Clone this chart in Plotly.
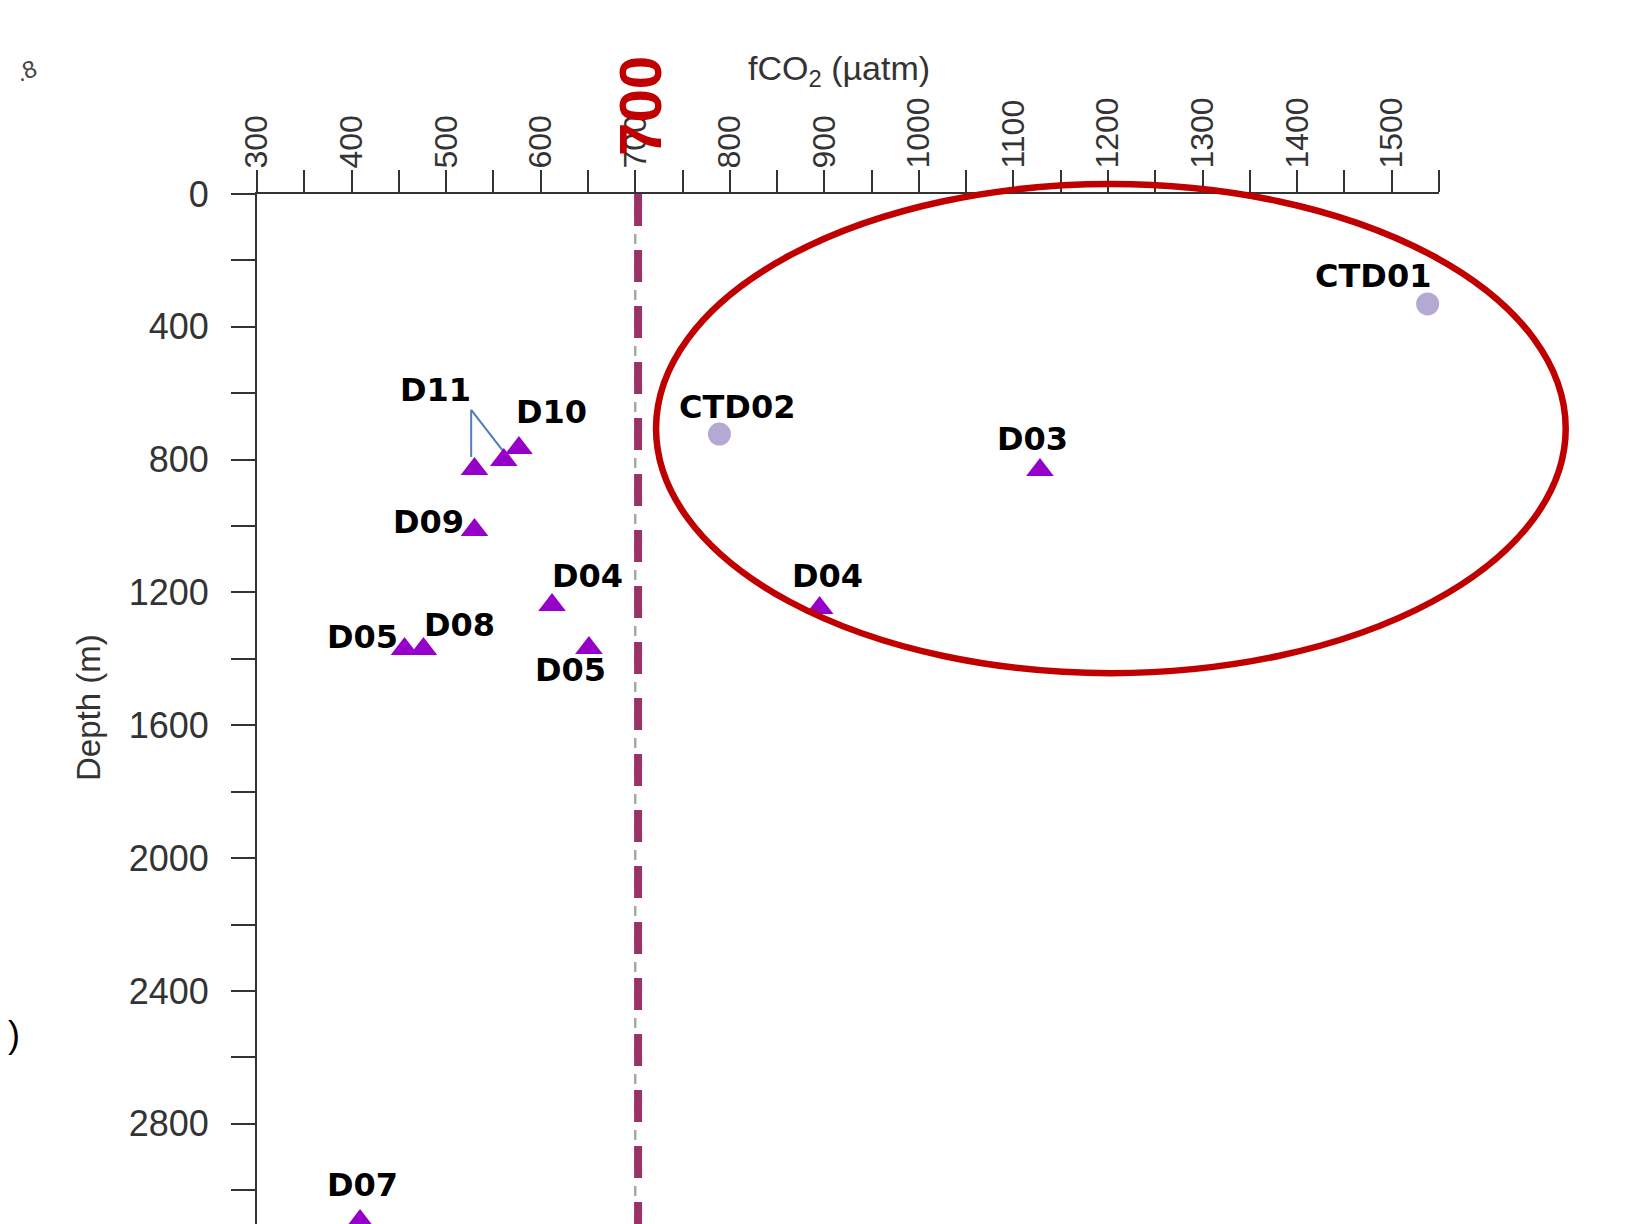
import plotly.graph_objects as go

# ---------------- data ----------------
X_MIN, X_MAX = 300, 1550
Y_MAX = 3102

ctd_names = ["CTD01", "CTD02"]
ctd_fco2 = [1538, 789]
ctd_depth = [331, 723]

d_names = ["D11", "D11", "D10", "D09", "D04", "D05", "D05", "D08", "D03", "D04", "D07"]
d_fco2 = [530, 561, 577, 530, 612, 651, 456, 476, 1128, 895, 409]
d_depth = [828, 801, 765, 1012, 1238, 1367, 1370, 1370, 831, 1247, 3093]

threshold = 700
x_tick_vals = list(range(300, 1501, 100))
y_tick_vals = list(range(0, 2801, 400))

# label offsets (pixels) relative to each point; None = no own label
d_label_dx = [-39, None, 33, -46, 35, -18, -42, 36, -7, 8, 2]
d_label_dy = [79, None, 36, 8, 29, -22, 12, 24, 31, 32, 36]
ctd_label_dx = [-55, 18]
ctd_label_dy = [28, 27]

# ---------------- figure ----------------
OFF = 8                      # default body margin of the html page
PAGE_W, PAGE_H = 1632, 1224
W, H = PAGE_W - OFF, PAGE_H - OFF
PL, PR, PT = 257, 1439, 194  # plot area edges in page pixels
ML, MT = PL - OFF, PT - OFF
MR = W - (PR - OFF)
MB = 0
PLOT_W = PR - PL
PLOT_H = PAGE_H - PT


def xp(x):
    return (x - X_MIN) / (X_MAX - X_MIN)


def yp(d):
    return 1 - d / Y_MAX


def px_x(X):
    return (X - PL) / PLOT_W


def px_y(Y):
    return (PAGE_H - Y) / PLOT_H


fig = go.Figure()

# thin grey dashed line (original) and thick maroon dashed overlay at 700
fig.add_trace(go.Scatter(x=[threshold, threshold], y=[36, Y_MAX], mode="lines",
                         line=dict(color="#a8a8a8", width=2.5, dash="10px,18px"),
                         hoverinfo="skip", showlegend=False))
fig.add_trace(go.Scatter(x=[threshold + 3, threshold + 3], y=[0, Y_MAX], mode="lines",
                         line=dict(color="rgb(155,50,100)", width=8, dash="32px,24px"),
                         hoverinfo="skip", showlegend=False))

# leader lines for D11 label (derived from the two D11 points)
ax_x = d_fco2[0] - 3.5
ax_d = d_depth[0] - 178
fig.add_trace(go.Scatter(
    x=[ax_x, ax_x, None, ax_x, d_fco2[1] + 4],
    y=[ax_d, d_depth[0] - 36, None, ax_d, d_depth[1] - 9],
    mode="lines", line=dict(color="rgb(80,125,185)", width=2),
    hoverinfo="skip", showlegend=False))

fig.add_trace(go.Scatter(x=ctd_fco2, y=ctd_depth, mode="markers",
                         marker=dict(symbol="circle", size=23, color="#b3a9d2"),
                         cliponaxis=False, showlegend=False))
fig.add_trace(go.Scatter(x=d_fco2, y=d_depth, mode="markers",
                         marker=dict(symbol="triangle-up", size=24, color="rgb(150,0,200)"),
                         cliponaxis=False, showlegend=False))

lab_font = dict(family="DejaVu Sans", size=32, color="black")
annotations = []
for n, x, d, dx, dy in zip(d_names, d_fco2, d_depth, d_label_dx, d_label_dy):
    if dx is None:
        continue
    annotations.append(dict(x=x, y=d, xref="x", yref="y", text="<b>%s</b>" % n,
                            showarrow=False, xshift=dx, yshift=dy, font=lab_font,
                            xanchor="center", yanchor="middle"))
for n, x, d, dx, dy in zip(ctd_names, ctd_fco2, ctd_depth, ctd_label_dx, ctd_label_dy):
    annotations.append(dict(x=x, y=d, xref="x", yref="y", text="<b>%s</b>" % n,
                            showarrow=False, xshift=dx, yshift=dy, font=lab_font,
                            xanchor="center", yanchor="middle"))

# red 700 marker text
annotations.append(dict(x=threshold + 6, y=px_y(106), xref="x", yref="paper",
                        text="<b>700</b>", textangle=-90, showarrow=False,
                        xanchor="center", yanchor="middle",
                        font=dict(family="Liberation Sans", size=60, color="#c00000")))
# axis titles
annotations.append(dict(x=px_x(839), y=px_y(71), xref="paper", yref="paper",
                        text="fCO<sub>2</sub> (µatm)", showarrow=False,
                        xanchor="center", yanchor="middle",
                        font=dict(family="Liberation Sans", size=34, color="#333")))
annotations.append(dict(x=px_x(88), y=px_y(708), xref="paper", yref="paper",
                        text="Depth (m)", textangle=-90, showarrow=False,
                        xanchor="center", yanchor="middle",
                        font=dict(family="Liberation Sans", size=33, color="#333")))
# fragments of neighbouring panel at left edge
annotations.append(dict(x=px_x(26), y=px_y(70), xref="paper", yref="paper",
                        text=".8", textangle=-20, showarrow=False,
                        xanchor="center", yanchor="middle",
                        font=dict(family="Liberation Sans", size=24, color="#444")))
annotations.append(dict(x=px_x(14), y=px_y(1034), xref="paper", yref="paper",
                        text=")", showarrow=False, xanchor="center", yanchor="middle",
                        font=dict(family="Liberation Sans", size=36, color="black")))

# ellipse highlight (data extents converted to paper)
ell_x0, ell_x1 = 722, 1684
ell_d0, ell_d1 = -30, 1443
shapes = [dict(type="circle", xref="paper", yref="paper",
               x0=xp(ell_x0), x1=xp(ell_x1), y0=yp(ell_d1), y1=yp(ell_d0),
               line=dict(color="#c00000", width=6.5))]

fig.update_layout(
    width=W, height=H,
    margin=dict(l=ML, r=MR, t=MT, b=MB, pad=0),
    paper_bgcolor="white", plot_bgcolor="white",
    showlegend=False,
    annotations=annotations, shapes=shapes,
    xaxis=dict(range=[X_MIN, X_MAX], side="top", showgrid=False, zeroline=False,
               showline=True, linecolor="#333", linewidth=2,
               tickmode="array", tickvals=x_tick_vals,
               ticks="outside", ticklen=22, tickwidth=2, tickcolor="#333",
               tickangle=-90, ticklabelstandoff=-5,
               tickfont=dict(family="Liberation Sans", size=32, color="#333"),
               minor=dict(dtick=50, tick0=300, ticks="outside", ticklen=22,
                          tickwidth=2, tickcolor="#333", showgrid=False)),
    yaxis=dict(range=[Y_MAX, 0], showgrid=False, zeroline=False,
               showline=True, linecolor="#333", linewidth=2,
               tickmode="array", tickvals=y_tick_vals,
               ticks="outside", ticklen=24, tickwidth=2, tickcolor="#333",
               ticklabelstandoff=15,
               tickfont=dict(family="Liberation Sans", size=36, color="#333"),
               minor=dict(dtick=200, tick0=0, ticks="outside", ticklen=24,
                          tickwidth=2, tickcolor="#333", showgrid=False)),
)

fig.write_html("out.html", config={"displayModeBar": False})
